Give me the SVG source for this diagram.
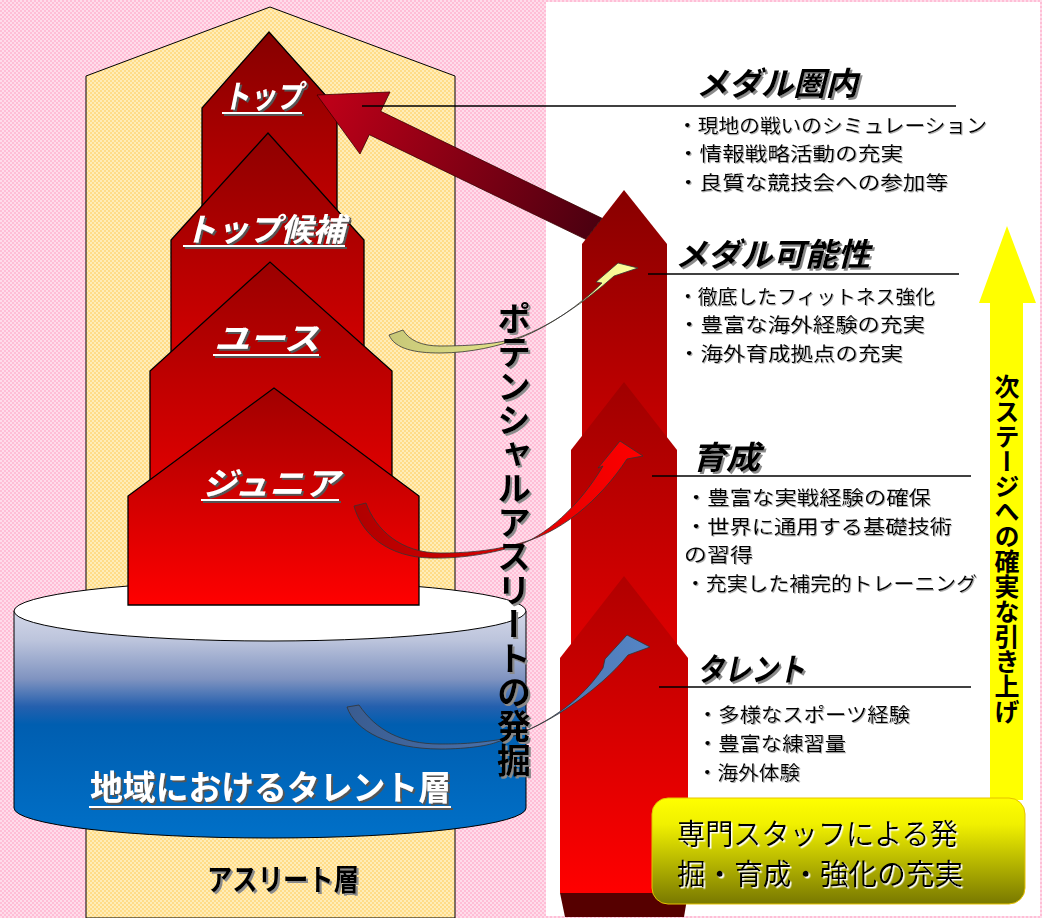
<svg xmlns="http://www.w3.org/2000/svg" width="1042" height="918" viewBox="0 0 1042 918">
<style>
.jp{font-family:"Noto Sans CJK JP","Noto Sans CJK SC",sans-serif;}
.lbl{fill:#fff;font-weight:bold;font-style:italic;font-size:32px;}
.head{fill:#000;font-weight:bold;font-style:italic;font-size:32px;}
.body{fill:#000;font-size:19.5px;}
.piece{stroke:#000;stroke-width:1.3;}
.rule{stroke:#000;stroke-width:1.6;}
.uline{stroke:#fff;stroke-width:2.2;}
.carrow{stroke:#333;stroke-width:0.8;}
</style>
<defs>
<pattern id="pinkPat" width="4" height="4" patternUnits="userSpaceOnUse"><rect width="4" height="4" fill="#FFBED6"/><rect width="2" height="2" fill="#FFDCEA"/><rect x="2" y="2" width="2" height="2" fill="#FFDCEA"/></pattern>
<pattern id="yelPat" width="4" height="4" patternUnits="userSpaceOnUse"><rect width="4" height="4" fill="#FFDC88"/><rect width="2" height="2" fill="#FFEDB8"/><rect x="2" y="2" width="2" height="2" fill="#FFEDB8"/></pattern>
<linearGradient id="gP1" x1="0" y1="0" x2="0" y2="1"><stop offset="0" stop-color="#860000"/><stop offset="1" stop-color="#CC0000"/></linearGradient>
<linearGradient id="gP2" x1="0" y1="0" x2="0" y2="1"><stop offset="0" stop-color="#8E0000"/><stop offset="1" stop-color="#DA0000"/></linearGradient>
<linearGradient id="gP3" x1="0" y1="0" x2="0" y2="1"><stop offset="0" stop-color="#9A0000"/><stop offset="1" stop-color="#E60000"/></linearGradient>
<linearGradient id="gP4" x1="0" y1="0" x2="0" y2="1"><stop offset="0" stop-color="#A00000"/><stop offset="1" stop-color="#FF0000"/></linearGradient>
<linearGradient id="gR1" x1="0" y1="0" x2="0" y2="1"><stop offset="0" stop-color="#880000"/><stop offset="1" stop-color="#CC0000"/></linearGradient>
<linearGradient id="gR2" x1="0" y1="0" x2="0" y2="1"><stop offset="0" stop-color="#A00000"/><stop offset="1" stop-color="#E20000"/></linearGradient>
<linearGradient id="gR3" x1="0" y1="0" x2="0" y2="1"><stop offset="0" stop-color="#B00000"/><stop offset="1" stop-color="#FF0000"/></linearGradient>
<linearGradient id="gCyl" gradientUnits="userSpaceOnUse" x1="0" y1="611" x2="0" y2="838"><stop offset="0" stop-color="#D4D8E8"/><stop offset="0.13" stop-color="#BCC4DC"/><stop offset="0.3" stop-color="#7F93C0"/><stop offset="0.42" stop-color="#2560AE"/><stop offset="0.5" stop-color="#005EB0"/><stop offset="1" stop-color="#0070C8"/></linearGradient>
<linearGradient id="gBig" gradientUnits="userSpaceOnUse" x1="330" y1="100" x2="600" y2="228"><stop offset="0" stop-color="#BC0018"/><stop offset="1" stop-color="#4A0010"/></linearGradient>
<linearGradient id="gYel" gradientUnits="userSpaceOnUse" x1="390" y1="0" x2="640" y2="0"><stop offset="0" stop-color="#C8C878"/><stop offset="1" stop-color="#FFFF99"/></linearGradient>
<linearGradient id="gRed" gradientUnits="userSpaceOnUse" x1="354" y1="0" x2="645" y2="0"><stop offset="0" stop-color="#B00000"/><stop offset="1" stop-color="#FF0000"/></linearGradient>
<linearGradient id="gBlu" gradientUnits="userSpaceOnUse" x1="347" y1="0" x2="650" y2="0"><stop offset="0" stop-color="#3A5C90"/><stop offset="1" stop-color="#5585C5"/></linearGradient>
<linearGradient id="gBox" x1="0" y1="0" x2="0" y2="1"><stop offset="0" stop-color="#FFFF00"/><stop offset="0.25" stop-color="#F0F000"/><stop offset="1" stop-color="#787800"/></linearGradient>
<filter id="shD" x="-10%" y="-20%" width="130%" height="150%"><feDropShadow dx="2" dy="2" stdDeviation="0.5" flood-color="#555" flood-opacity="1"/></filter>
<filter id="shG" x="-10%" y="-20%" width="130%" height="150%"><feDropShadow dx="2" dy="2" stdDeviation="0.6" flood-color="#8a8a8a" flood-opacity="1"/></filter>
<filter id="shL" x="-5%" y="-20%" width="115%" height="150%"><feDropShadow dx="1" dy="1" stdDeviation="0.5" flood-color="#b0b0b0" flood-opacity="1"/></filter>
<filter id="shW" x="-5%" y="-20%" width="115%" height="150%"><feDropShadow dx="1.5" dy="1.5" stdDeviation="0.3" flood-color="#fff" flood-opacity="1"/></filter>
</defs>

<g id="background">
<rect x="0" y="0" width="1042" height="918" fill="url(#pinkPat)"/>
<rect x="546" y="2" width="494" height="914" fill="#fff"/>
</g>

<g id="athlete-layer">
<polygon points="86,918 86,76 270,7 455,76 455,918" fill="url(#yelPat)" stroke="#000" stroke-width="1"/>
<text class="jp" x="207" y="890" font-size="30" font-weight="bold" fill="#000" textLength="152" lengthAdjust="spacingAndGlyphs" filter="url(#shG)">アスリート層</text>
</g>

<g id="talent-layer">
<path d="M14,611 L14,808 A256,30 0 0,0 526,808 L526,611 Z" fill="url(#gCyl)" stroke="#000" stroke-width="1"/>
<ellipse cx="270" cy="611" rx="256" ry="30" fill="#fff" stroke="#000" stroke-width="1"/>
<g filter="url(#shD)">
<text class="jp" x="90" y="800" font-size="34" font-weight="bold" fill="#fff" textLength="361" lengthAdjust="spacingAndGlyphs">地域におけるタレント層</text>
<line class="uline" x1="89" y1="807" x2="451" y2="807"/>
</g>
</g>

<g id="top">
<polygon class="piece" points="202,250 202,108 269,32 337,108 337,250" fill="url(#gP1)"/>
<g filter="url(#shD)"><text class="jp lbl" x="223" y="108" textLength="79" lengthAdjust="spacingAndGlyphs">トップ</text><line class="uline" x1="222" y1="113" x2="302" y2="113"/></g>
</g>
<g id="top-candidate">
<polygon class="piece" points="171,380 171,240 268,133 364,240 364,380" fill="url(#gP2)"/>
<g filter="url(#shD)"><text class="jp lbl" x="184" y="241" textLength="161" lengthAdjust="spacingAndGlyphs">トップ候補</text><line class="uline" x1="183" y1="246" x2="345" y2="246"/></g>
</g>
<g id="youth">
<polygon class="piece" points="150,505 150,371 270,262 392,371 392,505" fill="url(#gP3)"/>
<g filter="url(#shD)"><text class="jp lbl" x="214" y="350" textLength="105" lengthAdjust="spacingAndGlyphs">ユース</text><line class="uline" x1="213" y1="355" x2="319" y2="355"/></g>
</g>
<g id="junior">
<polygon class="piece" points="128,605 128,496 274,388 419,496 419,605" fill="url(#gP4)"/>
<g filter="url(#shD)"><text class="jp lbl" x="202" y="495" textLength="137" lengthAdjust="spacingAndGlyphs">ジュニア</text><line class="uline" x1="201" y1="500" x2="339" y2="500"/></g>
</g>

<g id="right-column">
<polygon points="582,460 582,244 624,190 667,244 667,460" fill="url(#gR1)"/>
<polygon points="571,665 571,450 624,382 677,450 677,665" fill="url(#gR2)"/>
<polygon points="560,893 560,658 624,576 688,658 688,893" fill="url(#gR3)"/>
<polygon points="560,893 688,893 684,917 565,917" fill="#560000"/>
</g>

<g id="connectors">
<polygon points="317,95 390,92 380.7,111.3 602,218.3 585.7,239.3 369.3,134.7 360,154" fill="url(#gBig)" stroke="#3a0000" stroke-width="0.8"/>
<path class="carrow" fill="url(#gYel)" d="M389,335 C395,349 415,353 440,353 C470,353 500,346 520,338 C550,326 580,305 602,283 L596,282 L618,263 L638,268 L614,276 C585,302 550,326 520,337 C500,344 470,346 440,346 C421,346 409,340 403,330 Z"/>
<path class="carrow" fill="url(#gRed)" d="M354,506 C362,536 390,557 430,558 C465,559 495,552 513,547 C545,538 580,505 603,466 L598,468 L620,441 L643,456 L627,459 C600,500 560,535 513,545 C490,551 465,553 440,553 C401,553 376,530 366,503 Z"/>
<path class="carrow" fill="url(#gBlu)" d="M347,707 C355,731 390,749 440,749 C470,749 490,745 497,742 C530,732 575,710 603,668 L605,659 L627,635 L650,647 L628,655 C600,690 540,732 497,740 C470,744 455,744 440,744 C401,744 376,730 359,705 Z"/>
</g>

<g id="potential-label">
<text class="jp" x="514" y="301" font-size="34" font-weight="bold" fill="#000" style="writing-mode:vertical-rl" filter="url(#shG)">ポテンシャルアスリートの発掘</text>
</g>

<g id="medal-zone">
<line class="rule" x1="362" y1="106" x2="956" y2="106"/>
<text class="jp head" x="696" y="95" textLength="162" lengthAdjust="spacingAndGlyphs" filter="url(#shG)">メダル圏内</text>
<g class="jp body" filter="url(#shL)">
<text x="677" y="133" textLength="310" lengthAdjust="spacingAndGlyphs">・現地の戦いのシミュレーション</text>
<text x="677" y="161" textLength="226" lengthAdjust="spacingAndGlyphs">・情報戦略活動の充実</text>
<text x="677" y="190" textLength="271" lengthAdjust="spacingAndGlyphs">・良質な競技会への参加等</text>
</g>
</g>

<g id="medal-potential">
<line class="rule" x1="648" y1="274" x2="959" y2="274"/>
<text class="jp head" x="675" y="266" textLength="195" lengthAdjust="spacingAndGlyphs" filter="url(#shG)">メダル可能性</text>
<g class="jp body" filter="url(#shL)">
<text x="678" y="304" textLength="257" lengthAdjust="spacingAndGlyphs">・徹底したフィットネス強化</text>
<text x="678" y="332" textLength="247" lengthAdjust="spacingAndGlyphs">・豊富な海外経験の充実</text>
<text x="678" y="361" textLength="225" lengthAdjust="spacingAndGlyphs">・海外育成拠点の充実</text>
</g>
</g>

<g id="development">
<line class="rule" x1="652" y1="476" x2="971" y2="476"/>
<text class="jp head" x="692" y="469" textLength="68" lengthAdjust="spacingAndGlyphs" filter="url(#shG)">育成</text>
<g class="jp body" filter="url(#shL)">
<text x="685" y="505" textLength="246" lengthAdjust="spacingAndGlyphs">・豊富な実戦経験の確保</text>
<text x="685" y="534" textLength="267" lengthAdjust="spacingAndGlyphs">・世界に通用する基礎技術</text>
<text x="684" y="562" textLength="69" lengthAdjust="spacingAndGlyphs">の習得</text>
<text x="685" y="591" textLength="292" lengthAdjust="spacingAndGlyphs">・充実した補完的トレーニング</text>
</g>
</g>

<g id="talent">
<line class="rule" x1="659" y1="687" x2="971" y2="687"/>
<text class="jp head" x="697" y="681" textLength="108" lengthAdjust="spacingAndGlyphs" filter="url(#shG)">タレント</text>
<g class="jp body" filter="url(#shL)">
<text x="697" y="722" textLength="213" lengthAdjust="spacingAndGlyphs">・多様なスポーツ経験</text>
<text x="697" y="751" textLength="149" lengthAdjust="spacingAndGlyphs">・豊富な練習量</text>
<text x="697" y="780" textLength="103" lengthAdjust="spacingAndGlyphs">・海外体験</text>
</g>
</g>

<g id="next-stage-arrow">
<polygon points="990,800 990,303 979,303 1007,226 1036,303 1023,303 1023,800" fill="#FFFF00"/>
<text class="jp" x="1007" y="374" font-size="25" font-weight="bold" fill="#000" style="writing-mode:vertical-rl">次ステージへの確実な引き上げ</text>
</g>

<g id="staff-box">
<rect x="652" y="798" width="373" height="106" rx="16" ry="16" fill="url(#gBox)" stroke="#E6C200" stroke-width="1"/>
<g class="jp" font-size="29" fill="#000" filter="url(#shW)">
<text x="677" y="845" textLength="281" lengthAdjust="spacingAndGlyphs">専門スタッフによる発</text>
<text x="677" y="885" textLength="286" lengthAdjust="spacingAndGlyphs">掘・育成・強化の充実</text>
</g>
</g>
</svg>
